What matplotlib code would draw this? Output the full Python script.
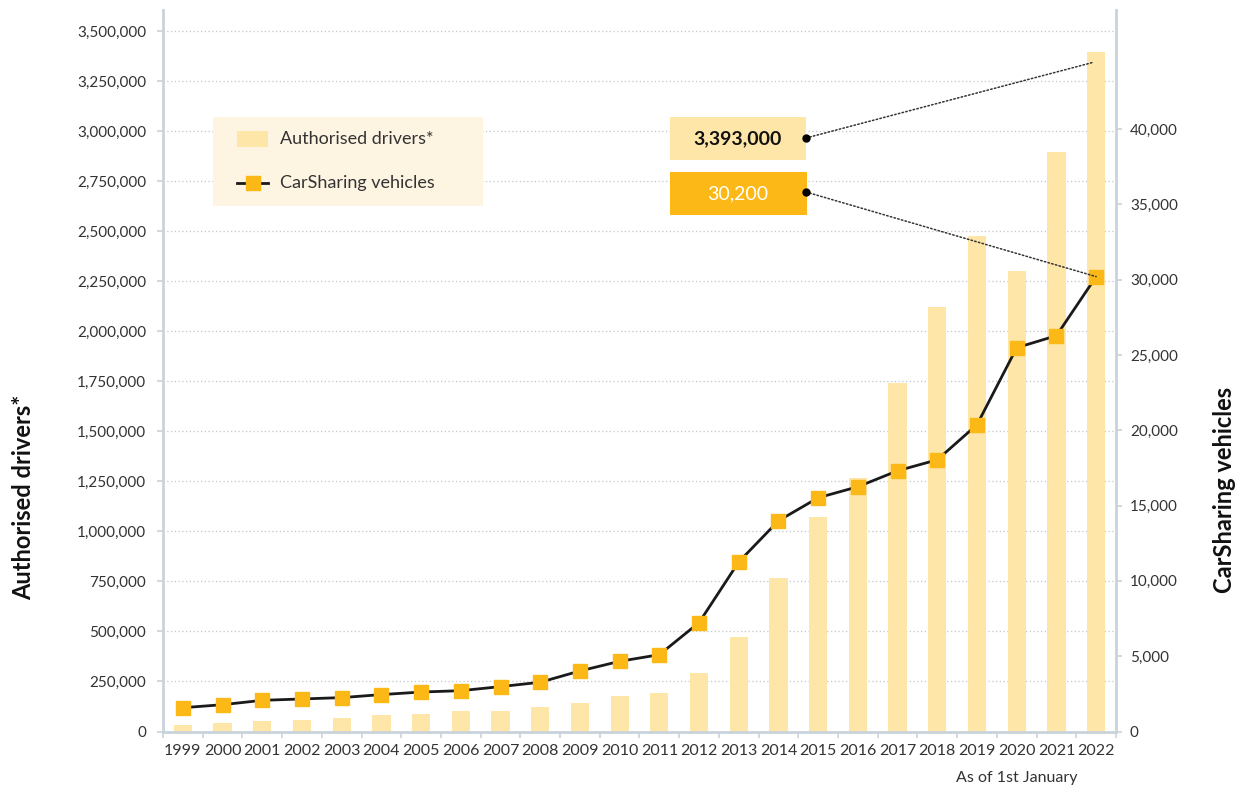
import matplotlib
matplotlib.use("Agg")
import matplotlib.pyplot as plt
import numpy as np
from matplotlib.patches import Rectangle, ConnectionPatch
from matplotlib.lines import Line2D
from matplotlib.ticker import FuncFormatter

plt.rcParams['font.family'] = ['Lato', 'DejaVu Sans']

years = [str(y) for y in range(1999, 2023)]
drivers = [30000, 43000, 50000, 58000, 65000, 80000, 87000, 100000, 100000, 122000,
           142000, 178000, 191000, 290000, 470000, 767000, 1072000, 1267000, 1742000,
           2122000, 2477000, 2302000, 2897000, 3393000]
vehicles = [1580, 1780, 2070, 2160, 2250, 2450, 2620, 2710, 2980, 3270,
            4020, 4660, 5100, 7230, 11260, 13990, 15520, 16250, 17310, 18040,
            20370, 25480, 26280, 30200]
left_ticks = list(range(0, 3500001, 250000))
right_ticks = list(range(0, 40001, 5000))

W, H = 1244, 789
BAR = '#fee6a8'
ORANGE = '#fbb817'
SPINE = '#c9d3da'
TXT = '#333333'

def P(x, y):
    return (x / W, 1 - y / H)

fig = plt.figure(figsize=(W / 100, H / 100), dpi=100)
ax = fig.add_axes([163 / W, 1 - 731.5 / H, (1116 - 163) / W, (731.5 - 10) / H])
ax2 = ax.twinx()

x = np.arange(len(years))
ax.bar(x, drivers, width=0.46, color=BAR, zorder=2)
ax2.plot(x, vehicles, color='#1a1a1a', lw=2, marker='s', markersize=10.5,
         markerfacecolor=ORANGE, markeredgecolor=ORANGE, zorder=3)

ax.set_xlim(-0.48, 23.48)
ax.set_ylim(0, 3605000)
ax2.set_ylim(0, 3605000 / 75.26)

ax.set_yticks(left_ticks)
ax2.set_yticks(right_ticks)
fmt = FuncFormatter(lambda v, p: f"{int(v):,}")
ax.yaxis.set_major_formatter(fmt)
ax2.yaxis.set_major_formatter(fmt)

ax.set_xticks(x)
ax.set_xticklabels(years)
ax.set_xticks(np.arange(-0.5, 24, 1), minor=True)
ax.tick_params(axis='x', which='major', length=0, pad=9, labelsize=11.5, labelcolor=TXT)
ax.tick_params(axis='x', which='minor', length=4, color=SPINE, width=1.2)
ax.tick_params(axis='y', length=4, color=SPINE, width=1.2, labelsize=11, labelcolor=TXT, pad=8)
ax2.tick_params(axis='y', length=4, color=SPINE, width=1.2, labelsize=11, labelcolor=TXT, pad=6)

for a in (ax, ax2):
    for s in a.spines.values():
        s.set_visible(False)
ax.spines['left'].set_visible(True)
ax.spines['bottom'].set_visible(True)
ax2.spines['right'].set_visible(True)
for s in (ax.spines['left'], ax.spines['bottom'], ax2.spines['right']):
    s.set_color(SPINE)
    s.set_linewidth(2)

ax.set_axisbelow(True)
ax.grid(axis='y', linestyle=(0, (1, 2)), color='#c0c6cc', lw=0.9)
for t in ax.yaxis.get_gridlines()[:1]:
    t.set_visible(False)

fig.text(24 / W, 1 - 497 / H, "Authorised drivers*", rotation=90, fontsize=17,
         fontweight='bold', ha='center', va='center', color='#111111')
fig.text(1224 / W, 1 - 490 / H, "CarSharing vehicles", rotation=90, fontsize=17,
         fontweight='bold', ha='center', va='center', color='#111111')
fig.text(1078 / W, 1 - 778 / H, "As of 1st January", fontsize=11.5, ha='right',
         va='center', color=TXT)

# legend box
lx, ly = P(213, 206)
fig.add_artist(Rectangle((lx, ly), 270 / W, 89 / H, transform=fig.transFigure,
                         facecolor='#fdf4e2', edgecolor='none', zorder=5))
rx, ry = P(237, 147)
fig.add_artist(Rectangle((rx, ry), 31 / W, 16 / H, transform=fig.transFigure,
                         facecolor=BAR, edgecolor='none', zorder=6))
fig.text(280 / W, 1 - 139 / H, "Authorised drivers*", fontsize=13, va='center',
         color=TXT, zorder=6)
fig.add_artist(Line2D([237 / W, 268 / W], [1 - 183 / H] * 2, transform=fig.transFigure,
                      color='#1a1a1a', lw=2, zorder=6))
fig.add_artist(Line2D([252.5 / W], [1 - 183 / H], transform=fig.transFigure, marker='s',
                      markersize=10.5, markerfacecolor=ORANGE, markeredgecolor=ORANGE,
                      zorder=7))
fig.text(280 / W, 1 - 183 / H, "CarSharing vehicles", fontsize=13, va='center',
         color=TXT, zorder=6)

# annotation boxes
bx, by = P(670, 160)
fig.add_artist(Rectangle((bx, by), 136 / W, 43 / H, transform=fig.transFigure,
                         facecolor=BAR, edgecolor='none', zorder=5))
fig.text(738 / W, 1 - 139 / H, f"{drivers[-1]:,}", fontsize=14, fontweight='bold',
         ha='center', va='center', color='#111111', zorder=6)
bx, by = P(670, 215)
fig.add_artist(Rectangle((bx, by), 137 / W, 43 / H, transform=fig.transFigure,
                         facecolor=ORANGE, edgecolor='none', zorder=5))
fig.text(738 / W, 1 - 194 / H, f"{vehicles[-1]:,}", fontsize=14,
         ha='center', va='center', color='white', zorder=6)

for (sx, sy), (tx, ty, tax) in [((806, 138), (22.9, drivers[-1] * 0.985, ax)),
                               ((806, 192), (23, vehicles[-1], ax2))]:
    cp = ConnectionPatch(xyA=P(sx, sy), coordsA=fig.transFigure, xyB=(tx, ty),
                         coordsB=tax.transData, linestyle=(0, (1, 1.5)), color='#333333',
                         lw=1.1, zorder=8)
    fig.add_artist(cp)
    fig.add_artist(Line2D([sx / W], [1 - sy / H], transform=fig.transFigure, marker='o',
                          markersize=5, color='black', zorder=9))

fig.savefig("out.png", dpi=100)
